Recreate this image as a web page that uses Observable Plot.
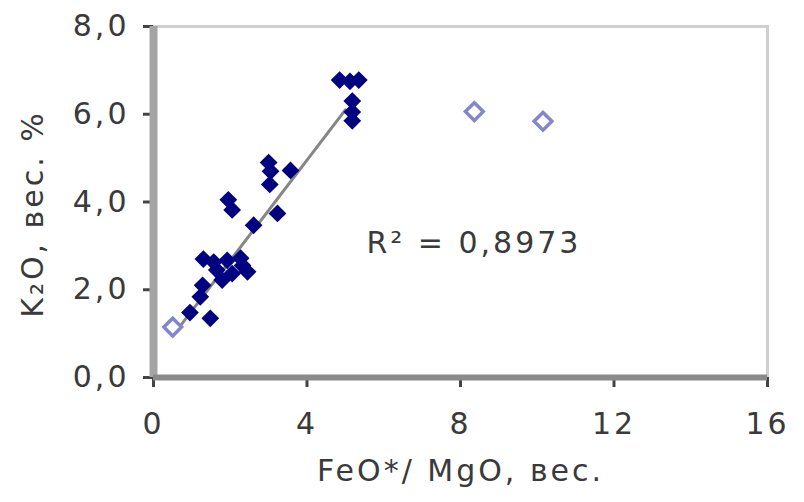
<!DOCTYPE html>
<html>
<head>
<meta charset="utf-8">
<script src="https://cdn.jsdelivr.net/npm/d3@7"></script>
<script src="https://cdn.jsdelivr.net/npm/@observablehq/plot@0.6"></script>
<style>
  html, body { margin: 0; padding: 0; background: #fff; }
</style>
</head>
<body>
<div id="chart"></div>
<script>
// Filled series (navy diamonds)
const filledX = [0.95, 1.48, 1.22, 1.28, 1.30, 1.57, 1.92, 2.27, 1.65, 1.79, 2.05, 2.45, 2.32,
                 1.95, 2.05, 2.61, 3.23, 3.00, 3.05, 3.03, 3.57,
                 4.85, 5.12, 5.35, 5.18, 5.18, 5.18];
const filledY = [1.48, 1.35, 1.84, 2.10, 2.70, 2.63, 2.67, 2.72, 2.45, 2.22, 2.37, 2.41, 2.55,
                 4.05, 3.82, 3.47, 3.74, 4.90, 4.70, 4.40, 4.72,
                 6.78, 6.75, 6.78, 6.30, 6.05, 5.85];
// Open series (light diamonds)
const openX = [0.50, 8.36, 10.15];
const openY = [1.15, 6.06, 5.84];
// Trend line end points
const trendX = [0.50, 5.00];
const trendY = [0.95, 6.10];
// Ticks and labels
const xTicks = [0, 4, 8, 12, 16];
const yTicks = [0, 2, 4, 6, 8];
const xTitle = "FeO*/ MgO, вес.";
const yTitle = "K₂O, вес. %";
const r2Text = "R² = 0,8973";
const r2Pos = [8.35, 3.05];

const filled = filledX.map((x, i) => ({x, y: filledY[i]}));
const open = openX.map((x, i) => ({x, y: openY[i]}));
const trend = trendX.map((x, i) => ({x, y: trendY[i]}));

const chart = Plot.plot({
  width: 804,
  height: 502,
  marginLeft: 153,
  marginRight: 37,
  marginTop: 26,
  marginBottom: 125,
  style: "font-family:'DejaVu Sans',sans-serif;font-size:30px;letter-spacing:3px;color:#3a3a3a;background:#fff;overflow:visible",
  x: {domain: [0, 16]},
  y: {domain: [0, 8]},
  marks: [
    Plot.frame({stroke: "#cfcfcf", strokeWidth: 3}),
    Plot.axisY({ticks: yTicks, tickSize: 10, tickPadding: 14, stroke: "#444", strokeWidth: 3,
                tickFormat: d => d.toFixed(1).replace(".", ","), label: null, fill: "#3a3a3a"}),
    Plot.axisX({ticks: xTicks, tickSize: 10, tickPadding: 25, stroke: "#444", strokeWidth: 3,
                tickFormat: d => String(d), label: null, fill: "#3a3a3a"}),
    Plot.ruleX([0], {stroke: "#a4a4a4", strokeWidth: 8}),
    Plot.ruleY([0], {stroke: "#8a8a8a", strokeWidth: 6}),
    Plot.line(trend, {x: "x", y: "y", stroke: "#868686", strokeWidth: 3}),
    Plot.dot(filled, {x: "x", y: "y", symbol: "diamond2", fill: "#000080", r: 8}),
    Plot.dot(open, {x: "x", y: "y", symbol: "diamond2", fill: "#fff", stroke: "#8585cc", strokeWidth: 3.5, r: 8}),
    Plot.text([r2Text], {x: () => r2Pos[0], y: () => r2Pos[1], text: d => d, fill: "#3a3a3a"}),
    Plot.text([xTitle], {frameAnchor: "bottom", dy: 103, text: d => d, fill: "#3a3a3a"}),
    Plot.text([yTitle], {frameAnchor: "left", textAnchor: "middle", dx: -120, dy: 12, rotate: -90, text: d => d, fill: "#3a3a3a"})
  ]
});
document.getElementById("chart").append(chart);
</script>
</body>
</html>
